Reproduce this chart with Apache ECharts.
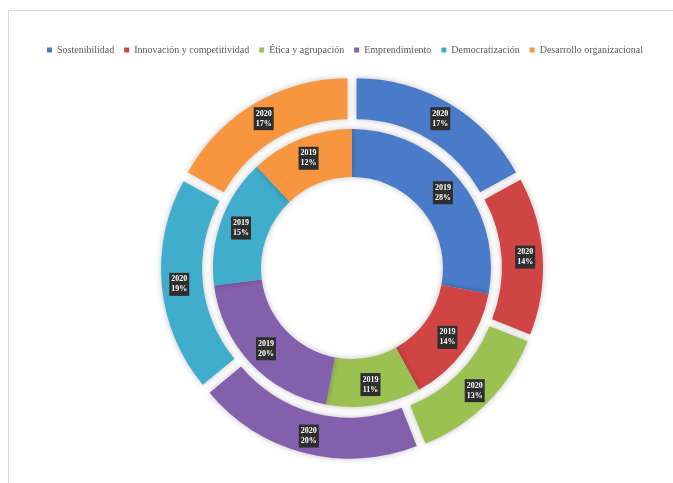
<!DOCTYPE html>
<html>
<head>
<meta charset="utf-8">
<script src="https://cdn.jsdelivr.net/npm/echarts@6/dist/echarts.min.js"></script>
<style>html,body{margin:0;padding:0;background:#fff}#c{width:673px;height:483px}</style>
</head>
<body>
<div id="c"></div>
<script>
const categories = ["Sostenibilidad", "Innovación y competitividad", "Ética y agrupación", "Emprendimiento", "Democratización", "Desarrollo organizacional"];
const colors = ["#4A7BC8", "#CF4543", "#9BC152", "#8360AC", "#3FADCB", "#F7963F"];
const values2019 = [28, 14, 11, 20, 15, 12];
const values2020 = [17, 14, 13, 20, 19, 17];
const seriesNames = ["2019", "2020"];

const chart = echarts.init(document.getElementById('c'));
const font = '"Liberation Serif", "DejaVu Serif", serif';
function mk(vals, selected) {
  return vals.map((v, i) => ({
    name: categories[i], value: v, selected: selected,
    itemStyle: { color: colors[i] }
  }));
}
const labelCfg = {
  show: true, position: 'inside',
  formatter: p => p.seriesName + '\n' + Math.round(p.percent) + '%',
  color: '#fff', fontSize: 8, fontWeight: 'bold', fontFamily: font,
  backgroundColor: '#2e2e2e', padding: [2, 2, 1, 2], lineHeight: 10, align: 'center'
};
chart.setOption({
  animation: false,
  backgroundColor: '#fff',
  graphic: [{ type: 'rect', shape: { x: 8.5, y: 10.5, width: 680, height: 490 }, style: { fill: 'none', stroke: '#d9d9d9', lineWidth: 1 }, silent: true }],
  legend: {
    top: 40, left: 42, itemWidth: 5, itemHeight: 5, itemGap: 10, icon: 'rect',
    textStyle: { fontFamily: font, fontSize: 10, color: '#595959' },
    data: categories
  },
  series: [
    {
      name: seriesNames[0], type: 'pie', radius: [91, 139], center: [352, 268],
      startAngle: 90, clockwise: true, silent: true,
      label: labelCfg, labelLine: { show: false },
      itemStyle: { shadowBlur: 6, shadowColor: 'rgba(0,0,0,0.25)' },
      emphasis: { disabled: true },
      data: mk(values2019, false)
    },
    {
      name: seriesNames[1], type: 'pie', radius: [141, 182], center: [352, 268],
      startAngle: 90, clockwise: true, selectedMode: 'multiple', selectedOffset: 9,
      label: labelCfg, labelLine: { show: false },
      itemStyle: { shadowBlur: 6, shadowColor: 'rgba(0,0,0,0.25)' },
      emphasis: { disabled: true },
      data: mk(values2020, true)
    }
  ]
});
</script>
</body>
</html>
